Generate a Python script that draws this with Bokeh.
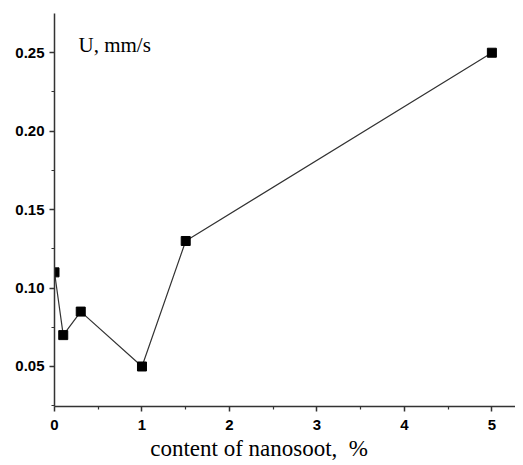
from bokeh.plotting import figure
from bokeh.models import Range1d, Label, FixedTicker, CustomJSTickFormatter
from bokeh.embed import file_html
from bokeh.resources import INLINE

content = [0.0, 0.1, 0.3, 1.0, 1.5, 5.0]
speed = [0.11, 0.07, 0.085, 0.05, 0.13, 0.25]
x_ticks = [0, 1, 2, 3, 4, 5]
y_ticks = [0.05, 0.10, 0.15, 0.20, 0.25]

p = figure(width=515, height=463, output_backend="svg", toolbar_location=None,
           x_range=Range1d(0, 5.27), y_range=Range1d(0.0245, 0.275),
           min_border_left=54, min_border_right=0, min_border_top=13, min_border_bottom=51)
p.outline_line_color = None
p.xgrid.visible = False
p.ygrid.visible = False

p.line(content, speed, line_color="#333333", line_width=1.2)
p.scatter(content, speed, marker="square", size=9, fill_color="black", line_color="black")

for ax in (p.xaxis[0], p.yaxis[0]):
    ax.axis_line_color = "#333333"
    ax.axis_line_width = 1.5
    ax.major_tick_line_color = "#333333"
    ax.minor_tick_line_color = "#333333"
    ax.major_tick_line_width = 1.5
    ax.minor_tick_line_width = 1.2
    ax.major_tick_out = 5
    ax.major_tick_in = 0
    ax.minor_tick_out = 3
    ax.minor_tick_in = 0
    ax.major_label_text_font = "Liberation Sans"
    ax.major_label_text_font_style = "bold"
    ax.major_label_text_font_size = "15px"
    ax.major_label_text_color = "black"

p.xaxis.ticker = FixedTicker(ticks=x_ticks, minor_ticks=[0.5, 1.5, 2.5, 3.5, 4.5])
p.yaxis.ticker = FixedTicker(ticks=y_ticks, minor_ticks=[0.025, 0.075, 0.125, 0.175, 0.225])
p.yaxis.formatter = CustomJSTickFormatter(code="return tick.toFixed(2);")
p.xaxis.major_label_standoff = 8
p.yaxis.major_label_standoff = 5

p.xaxis.axis_label = "content of nanosoot,\u00a0\u00a0%" + "\u00a0" * 9
p.xaxis.axis_label_text_font = "Liberation Serif"
p.xaxis.axis_label_text_font_style = "normal"
p.xaxis.axis_label_text_font_size = "23px"
p.xaxis.axis_label_text_color = "black"
p.xaxis.axis_label_standoff = 3

p.add_layout(Label(x=24, y=350, x_units="screen", y_units="screen", text="U, mm/s",
                   text_font="Liberation Serif", text_font_size="21px", text_color="black"))

open("out.html", "w").write(file_html(p, INLINE))
